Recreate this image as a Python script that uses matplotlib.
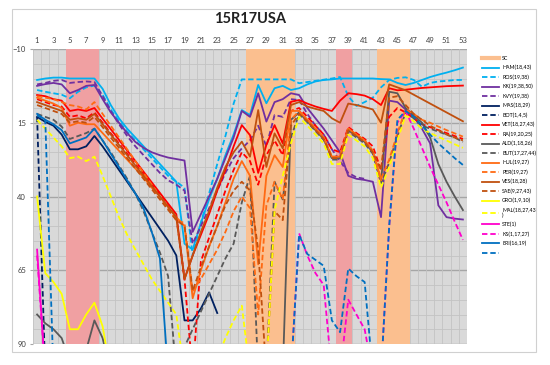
import numpy as np
import matplotlib
matplotlib.use("Agg")
import matplotlib.pyplot as plt
from matplotlib.lines import Line2D
from matplotlib.patches import Rectangle

plt.rcParams['font.family'] = ['Lato', 'DejaVu Sans']

# categories (weeks) and shaded weeks
weeks = list(range(1, 54))
sc_weeks = [27, 28, 29, 30, 31, 32, 43, 44, 45, 46]
red_weeks = [5, 6, 7, 8, 38, 39]
y_ticks = [-10, 15, 40, 65, 90]
x_labels = list(range(1, 54, 2))

N = None  # no value that week; 100 = below the axis (clipped)

ham = [0.5, 0, -0.3, -0.3, 0, 0, 0, 0, 3.5, 9,
       13.5, 17, 20, 23, 26, 29, 32, 35, 56, 58,
       49, 41, 34, 26, 19, 10.7, 12.4, 2.2, 8.4, 3.3,
       2.5, 3.9, 3.3, 2, 1, 0.5, 0.3, 0, 0, 0,
       0, 0, 0.2, 0.3, 1.5, 2.2, 1.5, 0.5, -0.5, -1.3,
       -2, -2.8, -3.7]
ros = [3.9, 4.5, 5, 5.5, 6.7, 4.5, 3, 2.4, 5.5, 10.5,
       14.5, 18, 21, 24, 27, 30, 33, 35, 37, 60,
       49, 39, 29, 19.5, 8.5, 0.3, 0.3, 0.3, 0.3, 0.3,
       0.3, 0.3, 1.6, 1.2, 0.8, 0.4, 0, -0.5, 6, 9.3,
       8, 6.5, 3, 0.5, -0.2, -0.4, 0.5, 2.8, 1.5, 1,
       0.8, 0.5, 0.5]
kk = [2.5, 1.9, 1.5, 2, 5, 3.9, 2.5, 2.2, 7, 11.5,
      15, 18.5, 21.5, 23.5, 25, 26, 26.8, 27.3, 27.8, 52,
      46, 40, 34, 27, 20, 11, 13, 5, 14.6, 8,
      7, 5, 5.6, 10, 13.5, 17, 21, 25, 33, 34,
      34.4, 35, 47, 7.5, 8, 10.5, 13, 17, 22, 43,
      47, 47.5, 47.8]
kvy = [2, 1.5, 0.8, 0.5, 1.5, 1.2, 1, 1.2, 6, 11,
       15.5, 19.5, 23, 26, 29, 32, 34.5, 36, 38, 56,
       50, 44, 38, 32, 27, 23.7, 21, 16, 23, 12.4,
       13, 7, 7.3, 12, 16, 19, 24, 28, 32, 33.5,
       34, N, N, N, N, N, N, N, N, N,
       N, N, N]
mas = [13, 14.7, 16, 19, 24, 24, 23, 19.5, 23, 27,
       31, 35, 39, 43, 47, 51, 55, 60, 82, 82,
       78, 72.5, 79.5, N, N, N, N, N, N, N,
       N, N, N, N, N, N, N, N, N, N,
       N, N, N, N, N, N, N, N, N, N,
       N, N, N]
bot = [13, 100, N, N, N, N, N, N, N, N,
       N, N, N, N, N, N, N, N, N, N,
       N, N, N, N, N, N, N, N, N, N,
       N, N, N, N, N, N, N, N, N, N,
       N, N, N, N, N, N, N, N, N, N,
       N, N, N]
vet = [5.6, 6, 7, 7.5, 11, 10.5, 11, 10, 13.6, 17.2,
       20.8, 24.4, 28, 31.6, 35.2, 38.8, 42.4, 46, 68, 60,
       53, 46, 38, 31, 23, 15.8, 19.2, 32, 22.5, 15.8,
       22, 7.9, 7.3, 8.5, 9.5, 10.3, 11, 7.5, 5, 5.3,
       5.8, 7, 9, 3.3, 4, 3.8, 3.5, 3.2, 3, 2.8,
       2.6, 2.5, 2.4]
ra = [7, 8, 9, 9.5, 13, 12.5, 13.5, 11.5, 15, 18.6,
      22, 25.5, 29, 32.5, 36, 39.5, 43, 47, 68, 100,
      62, 54, 46, 38, 31, 25, 28, 36, 26, 21,
      26, 11, 10, 13, 16, 19, 24, 25, 16.5, 18.5,
      20.5, 23, 31, 13, 10, 11.5, 13.5, 15.5, 16.5, 17.5,
      18.5, 19.5, 20.5]
ald = [80, 83, 85, 88, 96, 96, 92, 82, 88, 100,
       N, N, N, N, N, N, N, N, N, N,
       N, N, N, N, N, N, N, N, N, N,
       100, 14, 11.5, 14.5, 17.5, 20.5, 27, 27, 17.5, 19.5,
       21.5, 25, 35, 4.5, 5, 10, 12.5, 15, 20, 29,
       35, 40, 44.6]
but = [12, 13, 14, 16.3, 20.5, 19.5, 18.5, 17, 21, 25,
       29.5, 34, 39, 45, 52, 59, 67, 100, 91, 85,
       79, 73, 67, 61, 56, 42, 33, 100, 100, 35,
       41, 20, 12, 14.8, 17.8, 20.8, 27.5, 27.5, 18, 20,
       22, 25.5, 35.5, 28.5, 19.5, 11.5, 13.5, 16, 17, 18,
       19, 20, 21.5]
hul = [6.5, 7.5, 8.5, 10, 16, 15, 15.5, 15.5, 18.5, 21.5,
       24.5, 27.5, 30.5, 33.5, 37, 40, 43.5, 47, 50, 74.5,
       65, 57, 50, 42, 34, 28, 33, 63, 33, 26,
       30, 11, 11, 14, 17, 20, 26.5, 26.5, 17, 19,
       21, 24.5, 34.5, N, N, N, N, N, N, N,
       N, N, N]
per = [6, 6.5, 7, 8, 9, 9.5, 10.5, 8, 12, 16,
       20, 24, 28, 32, 36, 40, 44, 48, 49, 72,
       68, 63, 58, 52, 45, 40, 44, 80, 43, 35,
       41, 14, 11, 14, 17, 20, 26.5, 26.5, 17, 19,
       21, 24.5, 34, 27.5, 18.5, 10.5, 12, 14, 15, 16.3,
       17.5, 18.6, 19.7]
ves = [8, 9, 10, 11, 14, 13.5, 14, 12, 15.5, 19,
       22.5, 26, 29.5, 33, 36.5, 40, 43.5, 47, 68, 60,
       52, 45, 37, 30, 25, 21.4, 26.5, 10.7, 30, 18.6,
       23.7, 9, 8, 9.5, 10.3, 11, 13.5, 15, 8.5, 9,
       9.7, 10.5, 15, 2, 3, 4, 5.5, 7, 8.5, 10,
       11.5, 13, 14.5]
sae = [9, 10, 11, 12, 15, 14.5, 15, 13, 16.5, 20,
       23.5, 27, 30.5, 34, 37.5, 41, 44.5, 48, 50, 72,
       64, 57, 50, 43, 38, 35, 38, 58, 100, 45,
       48, 16, 12, 14.5, 17.5, 20.5, 27, 27, 17.5, 19.5,
       21.5, 25, 31, 6.5, 6, 9, 12, 14, 16, 17.5,
       19, 20, 21]
gro = [40, 66, 69, 73, 85, 85, 80, 76, 84, 100,
       N, N, N, N, N, N, N, N, N, N,
       N, N, N, N, N, N, N, N, N, N,
       N, N, N, N, N, N, N, N, N, N,
       N, N, N, N, N, N, N, N, N, N,
       N, N, N]
mal = [14, 17, 20, 23, 27, 26.5, 28, 26.5, 33, 40,
       47, 53, 58, 63, 68, 72, 76, 80, 100, N,
       N, N, 95, 88, 82, 77, 100, 100, 100, 44.6,
       33, 22, 13, 16, 19, 22, 29, 29, 19, 21,
       23, 27, 37, 30, 21, 12.5, 14.5, 17, 18.5, 19.8,
       21, 22.3, 23.5]
ste = [58, 100, N, N, N, N, N, N, N, N,
       N, N, N, N, N, N, N, N, N, N,
       N, N, N, N, N, N, N, N, N, N,
       N, N, N, N, N, N, N, N, N, N,
       N, N, N, N, N, N, N, N, N, N,
       N, N, N]
ks = [60, 100, N, N, N, N, N, N, N, N,
      N, N, N, N, N, N, N, N, N, N,
      N, N, N, N, N, N, N, N, N, N,
      N, 100, 52.5, 60, 66, 70, 100, 100, 75, 80,
      85, 100, 100, 50, 15, 11, 17, 23.5, 30, 36,
      42, 48.5, 54.7]
eri = [12, 14, 15.5, 17.5, 22, 21, 20, 17, 21, 25.5,
       30, 34.5, 39, 44, 52, 61, 100, N, N, N,
       N, N, N, N, N, N, N, N, N, N,
       N, N, N, N, N, N, N, N, N, N,
       N, N, N, N, N, N, N, N, N, N,
       N, N, N]
blue_dash = [12.5, 14, 100, N, N, N, N, N, N, N,
             N, N, N, N, N, N, N, N, N, N,
             N, N, N, N, N, N, N, N, N, N,
             N, 100, 53, 59.5, 61.5, 63.5, 82, 86, 64.4, 67,
             69, 100, 100, 50, 14, 11, 13, 16, 19, 22,
             24.5, 27, 29.3]

series = [
    ("HAM(18,43)", ham, "#00B0F0", False),
    ("ROS(19,38)", ros, "#00B0F0", True),
    ("KK(19,38,50)", kk, "#7030A0", False),
    ("KVY(19,38)", kvy, "#7030A0", True),
    ("MAS(18,29)", mas, "#002060", False),
    ("BOT(1,4,5)", bot, "#002060", True),
    ("VET(18,27,43)", vet, "#FF0000", False),
    ("RA(19,20,25)", ra, "#FF0000", True),
    ("ALD(1,18,26)", ald, "#595959", False),
    ("BUT(17,27,44)", but, "#595959", True),
    ("HUL(19,27)", hul, "#FF6A13", False),
    ("PER(19,27)", per, "#FF6A13", True),
    ("VES(18,28)", ves, "#C0500F", False),
    ("SAE(9,27,43)", sae, "#C0500F", True),
    ("GRO(1,9,10)", gro, "#FFFF00", False),
    ("MAL(18,27,43\n)", mal, "#FFFF00", True),
    ("STE(1)", ste, "#FF00CC", False),
    ("KS(1,17,27)", ks, "#FF00CC", True),
    ("ERI(16,19)", eri, "#0070C0", False),
    ("", blue_dash, "#0070C0", True),
]

fig = plt.figure(figsize=(5.5, 3.65), dpi=100)
fig.add_artist(Rectangle((12 / 550, 1 - 352 / 365), 524 / 550, 343 / 365,
                         transform=fig.transFigure, fill=False,
                         ec='#D0D0D0', lw=0.8))
ax = fig.add_axes([33 / 550, 1 - 344 / 365, 434 / 550, 295 / 365])
ax.set_facecolor('#D9D9D9')
ax.set_xlim(0.5, 53.5)
ax.set_ylim(90, -10)

# grid
for y in range(-10, 91, 5):
    major = (y + 10) % 25 == 0
    ax.axhline(y, color='#A6A6A6' if major else '#C3C3C3',
               lw=1.0 if major else 0.6, zorder=0.5)
for x in np.arange(0.5, 54, 1):
    ax.axvline(x, color='#C3C3C3', lw=0.6, zorder=0.5)

# shaded weeks
ax.bar(red_weeks, 100, bottom=-10, width=1.0, color='#F0A0A2', zorder=1)
ax.bar(sc_weeks, 100, bottom=-10, width=1.0, color='#FBBF8F', zorder=1)

handles = [Line2D([], [], color='#FBBF8F', lw=3)]
labels = ["SC"]
for i, (name, vals, color, dashed) in enumerate(series):
    y = np.array([np.nan if v is None else v for v in vals], dtype=float)
    kw = dict(dashes=(3, 1.6)) if dashed else {}
    ln, = ax.plot(weeks, y, color=color, lw=1.3, zorder=2 + i * 0.01, **kw)
    handles.append(ln)
    labels.append(name)

ax.xaxis.tick_top()
ax.set_xticks(x_labels)
ax.set_xticklabels([str(v) for v in x_labels])
ax.set_yticks(y_ticks)
ax.tick_params(axis='x', length=0, pad=3.5, labelsize=5.5, colors='#404040')
ax.tick_params(axis='y', length=2, pad=3, labelsize=5.5, colors='#404040',
               color='#A6A6A6')
for s in ax.spines.values():
    s.set_visible(False)

fig.text(250 / 550, 1 - 19 / 365, "15R17USA", ha='center', va='center',
         fontsize=10.5, fontweight='bold', color='#202020')

leg = fig.legend(handles, labels, loc='upper left',
                 bbox_to_anchor=(482 / 550, 1 - 56 / 365), frameon=False,
                 fontsize=3.8, handlelength=3.3, handletextpad=0.5,
                 labelspacing=0.78, borderaxespad=0, borderpad=0)
for t in leg.get_texts():
    t.set_linespacing(0.9)

fig.savefig("out.png", dpi=100)
